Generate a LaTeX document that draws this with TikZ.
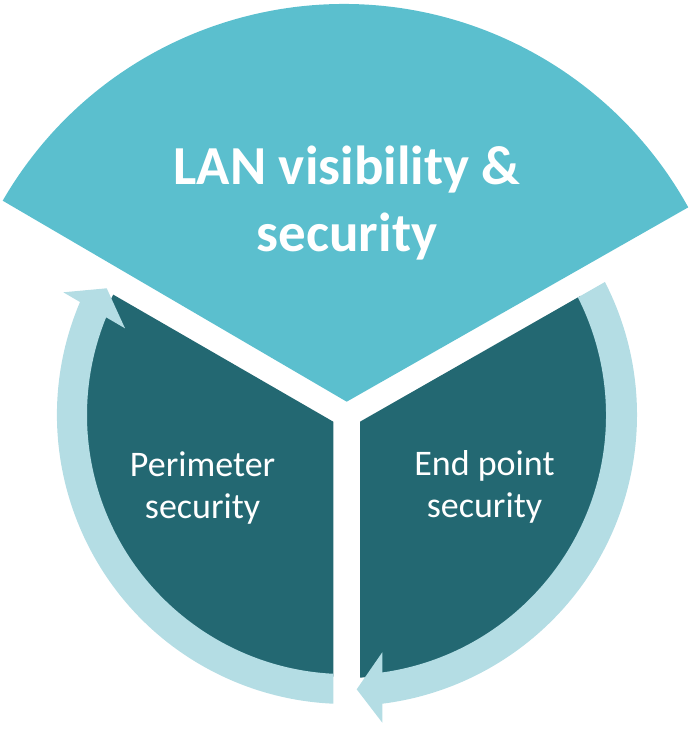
\documentclass[tikz,border=0pt]{standalone}
\usepackage{fontspec}
\setmainfont{Carlito}
\definecolor{topteal}{HTML}{5BBFCE}
\definecolor{darkteal}{HTML}{236872}
\definecolor{lightband}{HTML}{B4DDE4}
\tikzset{
  titletext/.style={text=white, font=\fontsize{55}{67}\selectfont\bfseries, align=center, inner sep=0pt},
  labeltext/.style={text=white, font=\fontsize{36}{42}\selectfont, align=center, inner sep=0pt},
  bandfill/.style={fill=lightband},
  darkfill/.style={fill=darkteal},
}
\begin{document}
\begin{tikzpicture}[x=1pt,y=1pt]
\useasboundingbox (0,0) rectangle (694,731);
\coordinate (C) at (346,316);
\coordinate (A) at (346.7,329.3);
\coordinate (P1) at (333.3,309.3);
\coordinate (P2) at (360,309.3);
% top sector
\fill[topteal] (A) -- (2.7,530.3) arc[start angle=149.96, end angle=28.93, radius=393.8] -- cycle;
% left lower sector with its band
\begin{scope}
  \clip (P1) -- ++(150:800) |- (333.3,-100) -- cycle;
  \fill[darkfill] (C) circle[radius=262];
  \begin{scope}[shift={(C)}]
    \fill[bandfill] (156:289) arc[start angle=156, end angle=280, radius=289]
      -- (280:259) arc[start angle=280, end angle=156, radius=259] -- cycle;
  \end{scope}
\end{scope}
% right lower sector with its band
\begin{scope}
  \clip (P2) -- ++(29.7:800) |- (360,-100) -- cycle;
  \fill[darkfill] (C) circle[radius=263];
  \begin{scope}[shift={(C)}]
    \fill[bandfill] (40:291) arc[start angle=40, end angle=-84, radius=291]
      -- (-84:260) arc[start angle=-84, end angle=40, radius=260] -- cycle;
  \end{scope}
\end{scope}
% arrowheads
\fill[bandfill] (63.3,438.7) -- (106.7,442.7) -- (125,402.7) -- cycle;
\fill[bandfill] (382.3,78.7) -- (356.7,41.7) -- (382.3,8.3) -- cycle;
% texts (base anchor = baseline of the last line)
\node[titletext, anchor=base] (lan) at (347,479) {LAN visibility \&\\security};
\node[labeltext, anchor=base] (peri) at (202.6,212.5) {Perimeter\\security};
\node[labeltext, anchor=base] (endp) at (484.5,213.3) {End point\\security};
\end{tikzpicture}
\end{document}
